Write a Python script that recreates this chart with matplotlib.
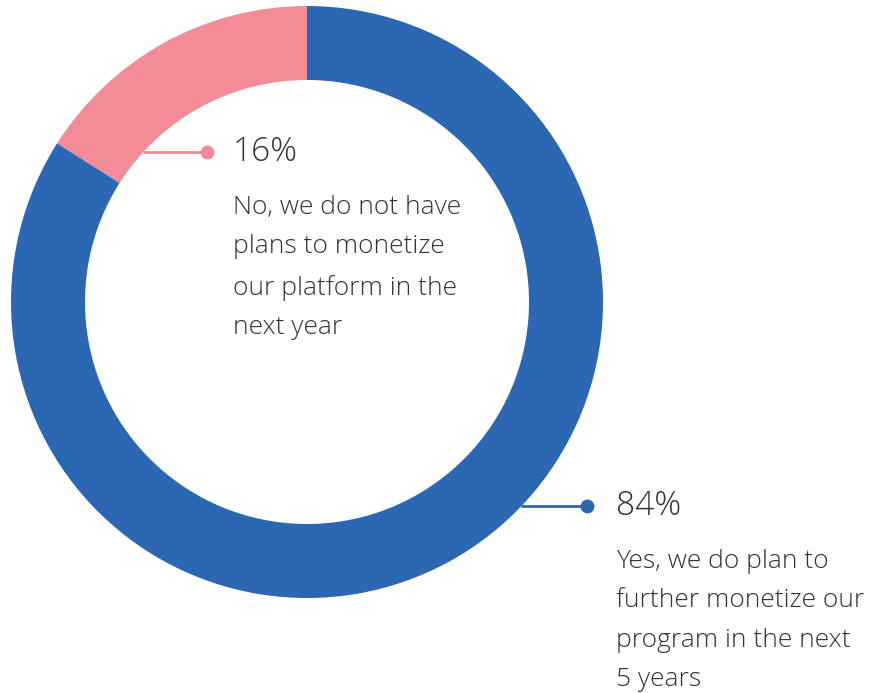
import numpy as np
import matplotlib
matplotlib.use("Agg")
import matplotlib.pyplot as plt

# Data
labels = ["No, we do not have\nplans to monetize\nour platform in the\nnext year",
          "Yes, we do plan to\nfurther monetize our\nprogram in the next\n5 years"]
values = [16, 84]
colors = ["#F38C96", "#2B67B2"]

plt.rcParams["font.family"] = ["Open Sans", "DejaVu Sans"]
TEXT = "#333333"

W, H = 871, 693
fig = plt.figure(figsize=(W / 100, H / 100), dpi=100)
ax = fig.add_axes([0, 0, 1, 1])

cx, cy = 307, H - 302
R, ring = 296, 74
ax.pie(values, colors=colors, startangle=90, counterclock=True,
       center=(cx, cy), radius=R, frame=True,
       wedgeprops={"width": ring, "linewidth": 0})
ax.set_xlim(0, W)
ax.set_ylim(0, H)
ax.set_aspect("equal")
ax.axis("off")

# leader lines + labels (y in pixels from top)
def leader(y_top, x_start, x_dot, color, pct, desc, dx):
    y = H - y_top
    ax.plot([x_start, x_dot], [y, y], color=color, lw=2, solid_capstyle="butt")
    ax.plot([x_dot], [y], "o", color=color, ms=10, mec="none")
    ax.text(x_dot + dx, y, f"{pct}%", fontsize=24, color=TEXT,
            ha="left", va="center", fontweight="light")
    ax.text(x_dot + dx, y - 43, desc, fontsize=19, color=TEXT,
            ha="left", va="top", linespacing=1.76, fontweight="light")

# pink leader starts at inner edge, blue at outer edge
y1 = 152
x1 = cx - np.sqrt((R - ring) ** 2 - (H - y1 - cy) ** 2)
leader(y1, x1, 207, colors[0], values[0], labels[0], 26)
y2 = 506
x2 = cx + np.sqrt(R ** 2 - (H - y2 - cy) ** 2)
leader(y2, x2, 587, colors[1], values[1], labels[1], 29)

fig.savefig("out.png", dpi=100)
